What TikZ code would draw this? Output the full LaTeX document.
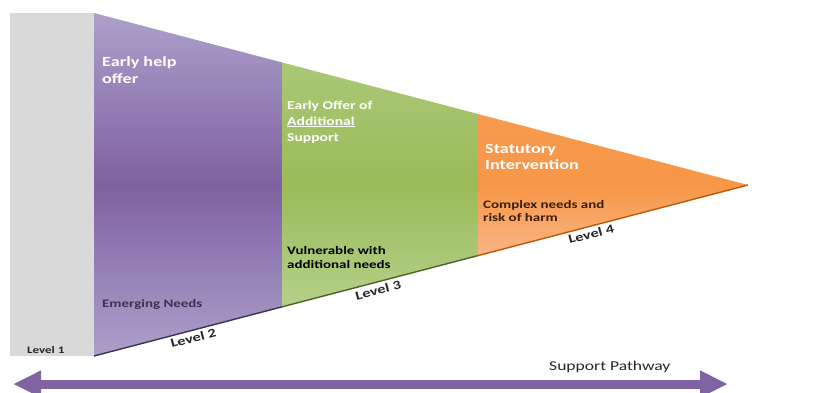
\documentclass[tikz,border=0pt]{standalone}
\usepackage{fontspec}
\setmainfont{Carlito}[FakeStretch=1.3]
\usetikzlibrary{arrows.meta,calc}
\definecolor{greyc}{HTML}{D9D9D9}
\definecolor{purpleL}{HTML}{ACA0CA}
\definecolor{purpleM}{HTML}{7E61A1}
\definecolor{purpleD}{HTML}{3F3151}
\definecolor{greenL}{HTML}{B5D08A}
\definecolor{greenM}{HTML}{9BBB59}
\definecolor{greenD}{HTML}{4F6228}
\definecolor{orangeL}{HTML}{F9B687}
\definecolor{orangeM}{HTML}{F79646}
\definecolor{orangeD}{HTML}{C0580A}
\definecolor{brownT}{HTML}{3B1E06}
\definecolor{darkT}{HTML}{262626}
\definecolor{arrowc}{HTML}{8064A2}
\tikzset{
  headtxt/.style={text=white, font=\bfseries\fontsize{14}{17}\selectfont, anchor=base west, inner sep=0pt, align=left},
  subtxt/.style={font=\bfseries\fontsize{11.5}{14}\selectfont, anchor=base west, inner sep=0pt, align=left},
  leveltxt/.style={text=darkT, font=\bfseries\fontsize{12.5}{14}\selectfont, inner sep=0pt},
  pathway/.style={line width=9pt, color=arrowc, {Triangle[length=28pt,width=25pt]}-{Triangle[length=28pt,width=25pt]}}
}
\begin{document}
\begin{tikzpicture}[x=1pt,y=-1pt]
\useasboundingbox (0,0) rectangle (821,392);
\fill[white] (0,0) rectangle (821,392);
% key points
\coordinate (tl) at (94,13);
\coordinate (bl) at (94,356);
\coordinate (apex) at (748,185);
\coordinate (gt) at ($(tl)!0.28746!(apex)$);
\coordinate (gb) at ($(bl)!0.28746!(apex)$);
\coordinate (ot) at ($(tl)!0.58716!(apex)$);
\coordinate (ob) at ($(bl)!0.58716!(apex)$);
% level 1 block
\fill[greyc] (10,13) rectangle (94,356);
% sections
\shade[top color=purpleL, bottom color=purpleL, middle color=purpleM] (tl) -- (gt) -- (gb) -- (bl) -- cycle;
\shade[top color=greenL!60!greenM, bottom color=greenL, middle color=greenM] (gt) -- (ot) -- (ob) -- (gb) -- cycle;
\shade[top color=orangeM!85!orangeL, bottom color=orangeL, middle color=orangeM] (ot) -- (apex) -- (ob) -- cycle;
% bottom edge lines
\draw[purpleD, line width=1.4pt] (bl) -- (gb);
\draw[greenD, line width=1.4pt] (gb) -- (ob);
\draw[orangeD, line width=1.4pt] (ob) -- (apex);
% texts (anchor = baseline of last line)
\node[headtxt] (eh) at (102,83) {Early help\\offer};
\node[subtxt, text=purpleD] (em) at (102,307) {Emerging Needs};
\node[leveltxt, font=\bfseries\fontsize{10}{12}\selectfont, anchor=base west] (l1) at (27,353) {Level 1};
\node[headtxt, font=\bfseries\fontsize{12}{16}\selectfont] (eo) at (287,141) {Early Offer of\\\underline{Additional}\\Support};
\node[subtxt, text=black] (vu) at (287,268) {Vulnerable with\\additional needs};
\node[headtxt, font=\bfseries\fontsize{14}{16}\selectfont] (st) at (485,169) {Statutory\\Intervention};
\node[subtxt, text=brownT, font=\bfseries\fontsize{11.5}{12.5}\selectfont] (cx) at (483,221) {Complex needs and\\risk of harm};
\node[leveltxt, rotate=14.65, anchor=north] (l2) at ($(bl)!0.15!(apex)+(0,3)$) {Level 2};
\node[leveltxt, rotate=14.65, anchor=north] (l3) at ($(bl)!0.4327!(apex)+(0,3.5)$) {Level 3};
\node[leveltxt, rotate=14.65, anchor=north] (l4) at ($(bl)!0.7584!(apex)+(0,3)$) {Level 4};
% support pathway
\node[font=\fontsize{13.5}{15}\selectfont, text=darkT, anchor=base west, inner sep=0pt] (sp) at (549,370) {Support\ Pathway};
\coordinate (pl) at (13,384);
\coordinate (pr) at (728,384);
\draw[pathway] (pl) -- (pr);
\end{tikzpicture}
\end{document}
